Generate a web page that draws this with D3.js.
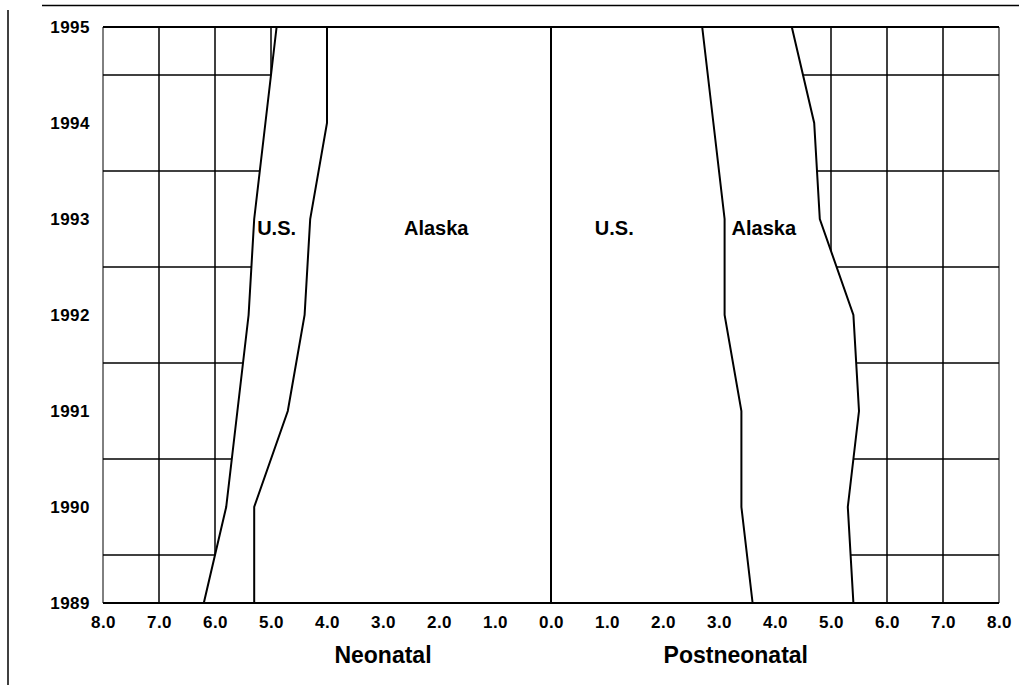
<!DOCTYPE html>
<html>
<head>
<meta charset="utf-8">
<script src="https://cdn.jsdelivr.net/npm/d3@7"></script>
<style>
  body { margin: 0; background: #fff; }
  text { font-family: "Liberation Sans", Arial, sans-serif; font-weight: bold; fill: #000; }
</style>
</head>
<body>
<svg id="chart"></svg>
<script>
// rates per 1,000 live births
let years = [1989, 1990, 1991, 1992, 1993, 1994, 1995]
let usNeonatal = [6.2, 5.8, 5.6, 5.4, 5.3, 5.1, 4.9]
let akNeonatal = [5.3, 5.3, 4.7, 4.4, 4.3, 4.0, 4.0]
let usPostneonatal = [3.6, 3.4, 3.4, 3.1, 3.1, 2.9, 2.7]
let akPostneonatal = [5.4, 5.3, 5.5, 5.4, 4.8, 4.7, 4.3]
let leftTicks = [8, 7, 6, 5, 4, 3, 2, 1]
let rightTicks = [0, 1, 2, 3, 4, 5, 6, 7, 8]
let gridYears = [1989.5, 1990.5, 1991.5, 1992.5, 1993.5, 1994.5]

function getConfig() {
  let width = 1019
  let height = 685
  let container = d3.select("#chart")
    .attr("width", width)
    .attr("height", height)
  return { width, height, container }
}

function getScales() {
  let xLeft = d3.scaleLinear().domain([8, 0]).range([103, 551])
  let xRight = d3.scaleLinear().domain([0, 8]).range([551, 999])
  let yScale = d3.scaleLinear().domain([1989, 1995]).range([603, 27])
  return { xLeft, xRight, yScale }
}

function drawGrid(scales, config) {
  let { xLeft, xRight, yScale } = scales
  let { container } = config
  let g = container.append("g")

  g.selectAll(".hgrid")
    .data(gridYears)
    .enter()
    .append("line")
      .attr("x1", xLeft(8)).attr("x2", xRight(8))
      .attr("y1", d => yScale(d)).attr("y2", d => yScale(d))
      .attr("stroke", "#000").attr("stroke-width", 1.5)

  g.selectAll(".vleft")
    .data(leftTicks)
    .enter()
    .append("line")
      .attr("x1", d => xLeft(d)).attr("x2", d => xLeft(d))
      .attr("y1", yScale(1995)).attr("y2", yScale(1989))
      .attr("stroke", "#000").attr("stroke-width", d => d == 8 ? 1 : 1.5)

  g.selectAll(".vright")
    .data(rightTicks.slice(1))
    .enter()
    .append("line")
      .attr("x1", d => xRight(d)).attr("x2", d => xRight(d))
      .attr("y1", yScale(1995)).attr("y2", yScale(1989))
      .attr("stroke", "#000").attr("stroke-width", d => d == 8 ? 1 : 1.5)
}

function drawSide(outer, inner, xScale, scales, config) {
  let { yScale } = scales
  let { container } = config
  let rows = years.map((y, i) => ({ year: y, outer: outer[i], inner: inner[i] }))

  // white area covers the grid
  let area = d3.area()
    .y(d => yScale(d.year))
    .x0(xScale(0))
    .x1(d => xScale(d.outer))
  container.append("path")
    .datum(rows)
    .attr("d", area)
    .attr("fill", "#fff")

  let lineOuter = d3.line().x(d => xScale(d.outer)).y(d => yScale(d.year))
  let lineInner = d3.line().x(d => xScale(d.inner)).y(d => yScale(d.year))
  container.append("path").datum(rows).attr("d", lineOuter)
    .attr("fill", "none").attr("stroke", "#000").attr("stroke-width", 2)
  container.append("path").datum(rows).attr("d", lineInner)
    .attr("fill", "none").attr("stroke", "#000").attr("stroke-width", 2)
}

function drawFrame(scales, config) {
  let { xLeft, xRight, yScale } = scales
  let { container } = config

  // page border (scanned figure)
  container.append("line").attr("x1", 42).attr("x2", 1019).attr("y1", 5.5).attr("y2", 5.5)
    .attr("stroke", "#000").attr("stroke-width", 1.5)
  container.append("line").attr("x1", 8).attr("x2", 8).attr("y1", 10).attr("y2", 685)
    .attr("stroke", "#000").attr("stroke-width", 1.5)

  // plot top and bottom
  container.append("line").attr("x1", xLeft(8)).attr("x2", xRight(8))
    .attr("y1", yScale(1995)).attr("y2", yScale(1995))
    .attr("stroke", "#000").attr("stroke-width", 2)
  container.append("line").attr("x1", xLeft(8)).attr("x2", xRight(8))
    .attr("y1", yScale(1989)).attr("y2", yScale(1989))
    .attr("stroke", "#000").attr("stroke-width", 2)
  // zero line
  container.append("line").attr("x1", xLeft(0)).attr("x2", xLeft(0))
    .attr("y1", yScale(1995)).attr("y2", yScale(1989))
    .attr("stroke", "#000").attr("stroke-width", 2)
}

function drawAxes(scales, config) {
  let { xLeft, xRight, yScale } = scales
  let { container } = config
  let fmt = d3.format(".1f")

  let ax1 = container.append("g")
    .attr("transform", `translate(0,${yScale(1989)})`)
    .call(d3.axisBottom(xLeft).tickValues(leftTicks).tickFormat(fmt).tickSize(0).tickPadding(13))
  let ax2 = container.append("g")
    .attr("transform", `translate(0,${yScale(1989)})`)
    .call(d3.axisBottom(xRight).tickValues(rightTicks).tickFormat(fmt).tickSize(0).tickPadding(13))
  let ay = container.append("g")
    .attr("transform", `translate(${xLeft(8)},0)`)
    .call(d3.axisLeft(yScale).tickValues(years).tickFormat(d3.format("d")).tickSize(0).tickPadding(13))

  ;[ax1, ax2, ay].forEach(a => {
    a.select(".domain").remove()
    a.selectAll("text")
      .style("font-family", "'Liberation Sans', Arial, sans-serif")
      .style("font-weight", "bold")
      .style("font-size", "17px")
      .style("letter-spacing", "0.5px")
      .attr("fill", "#000")
  })

  container.append("text")
    .attr("x", xLeft(3)).attr("y", 663)
    .attr("text-anchor", "middle")
    .style("font-size", "23px")
    .text("Neonatal")
  container.append("text")
    .attr("x", xRight(3.3)).attr("y", 663)
    .attr("text-anchor", "middle")
    .style("font-size", "23px")
    .text("Postneonatal")
}

function drawLabels(scales, config) {
  let { xLeft, xRight, yScale } = scales
  let { container } = config
  let labels = [
    { text: "U.S.", x: xLeft(4.9) },
    { text: "Alaska", x: xLeft(2.05) },
    { text: "U.S.", x: xRight(1.13) },
    { text: "Alaska", x: xRight(3.8) }
  ]
  container.selectAll(".series-label")
    .data(labels)
    .enter()
    .append("text")
      .attr("x", d => d.x)
      .attr("y", yScale(1992.83))
      .attr("text-anchor", "middle")
      .style("font-size", "20px")
      .text(d => d.text)
}

function showChart() {
  let config = getConfig()
  let scales = getScales()
  drawGrid(scales, config)
  drawSide(usNeonatal, akNeonatal, scales.xLeft, scales, config)
  drawSide(akPostneonatal, usPostneonatal, scales.xRight, scales, config)
  drawFrame(scales, config)
  drawAxes(scales, config)
  drawLabels(scales, config)
}

showChart()
</script>
</body>
</html>
